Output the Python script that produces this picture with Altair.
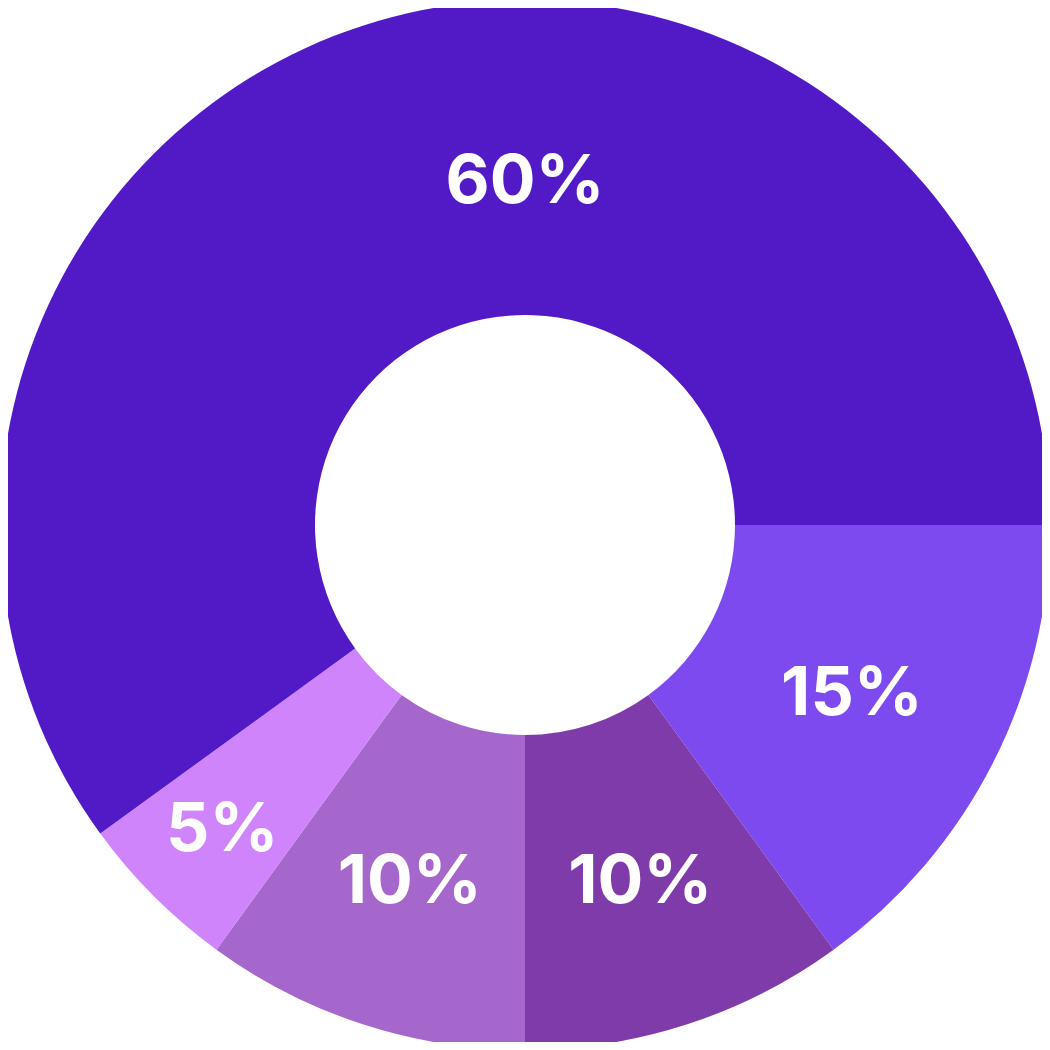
import math
import altair as alt
import pandas as pd

labels = ["15%", "10%", "10%", "5%", "60%"]
values = [15, 10, 10, 5, 60]
colors = ["#7C4AEF", "#803BAA", "#A567CC", "#D084FC", "#5219C7"]

total = sum(values)
df = pd.DataFrame({"label": labels, "value": values, "idx": list(range(len(values)))})
df["key"] = [f"s{i}" for i in df["idx"]]

theta_scale = alt.Scale(domain=[0, total], range=[math.pi / 2, math.pi / 2 + 2 * math.pi])
color_scale = alt.Scale(domain=list(df["key"]), range=colors)

base = alt.Chart(df)

arcs = base.mark_arc(outerRadius=525, innerRadius=210).encode(
    theta=alt.Theta("value:Q", stack=True, scale=theta_scale),
    order=alt.Order("idx:Q"),
    color=alt.Color("key:N", scale=color_scale, legend=None),
    x=alt.value(517),
    y=alt.value(517),
)

text = base.transform_window(
    cum="sum(value)", sort=[alt.SortField("idx")], frame=[None, 0]
).transform_calculate(
    mid=f"datum.value > {total} / 2 ? {total} * 0.75 : datum.cum - datum.value / 2",
    lr="datum.value > 50 ? 345 : (datum.value <= 5 ? 428 : (datum.value <= 10 ? 373 : 367))",
).mark_text(
    font="Inter", fontSize=68, fontWeight=700, color="white",
    align="center", baseline="middle", dy=3,
).encode(
    theta=alt.Theta("mid:Q", stack=None, scale=theta_scale),
    radius=alt.Radius("lr:Q", scale=None),
    text="label:N",
    x=alt.value(517),
    y=alt.value(517),
)

chart = alt.layer(arcs, text).properties(
    width=1034, height=1034, autosize="none", padding=0,
).configure_view(stroke=None)

chart.save("out.html", embed_options={"renderer": "svg", "actions": False})
